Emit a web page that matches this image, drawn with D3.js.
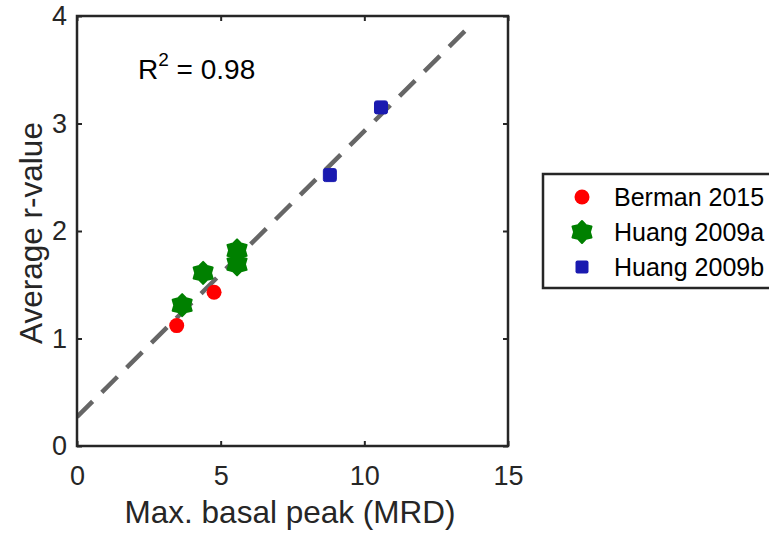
<!DOCTYPE html>
<html><head><meta charset="utf-8">
<script src="https://cdn.jsdelivr.net/npm/d3@7/dist/d3.min.js"></script>
<style>body{margin:0;background:#fff;overflow:hidden}text{font-family:"Liberation Sans",Arial,sans-serif}</style>
</head><body>
<script>
const bermanX = [3.47, 4.77];
const bermanY = [1.12, 1.43];
const huangAX = [3.66, 4.39, 5.57, 5.57];
const huangAY = [1.31, 1.61, 1.82, 1.69];
const huangBX = [8.8, 10.58];
const huangBY = [2.52, 3.15];
const fitX = [0, 13.65];
const fitY = [0.27, 3.9];
const xTicks = [0, 5, 10, 15];
const yTicks = [0, 1, 2, 3, 4];
const legendLabels = ["Berman 2015", "Huang 2009a", "Huang 2009b"];

const W = 769, H = 536;
const svg = d3.select("body").append("svg").attr("width", W).attr("height", H);
const L = 77, R = 508, T = 16, B = 446;
const x = d3.scaleLinear().domain([0, 15]).range([L, R]);
const y = d3.scaleLinear().domain([0, 4]).range([B, T]);
const axisCol = "#262626";

svg.append("clipPath").attr("id","clip").append("rect").attr("x",L).attr("y",T).attr("width",R-L).attr("height",B-T);

svg.append("line").attr("clip-path","url(#clip)")
  .attr("x1", x(fitX[0])).attr("y1", y(fitY[0])).attr("x2", x(fitX[1])).attr("y2", y(fitY[1]))
  .attr("stroke", "#666").attr("stroke-width", 4.5).attr("stroke-dasharray", "22,13");

const star = d3.symbol().type({draw(ctx, size){
  const r = Math.sqrt(size), ri = r*0.72;
  for(let i=0;i<12;i++){const a = -Math.PI/2 + i*Math.PI/6; const rr = i%2?ri:r;
    const px = rr*Math.cos(a), py = rr*Math.sin(a); i?ctx.lineTo(px,py):ctx.moveTo(px,py);}
  ctx.closePath();}}).size(121);

const g = svg.append("g");
huangAX.forEach((v,i)=>{
  g.append("path").attr("d", star()).attr("transform",`translate(${x(v)},${y(huangAY[i])})`)
   .attr("fill","#008000").attr("stroke","#008000").attr("stroke-width",2).attr("stroke-linejoin","round");
});
bermanX.forEach((v,i)=>{
  g.append("circle").attr("cx",x(v)).attr("cy",y(bermanY[i])).attr("r",7.5).attr("fill","#ff0000");
});
huangBX.forEach((v,i)=>{
  g.append("rect").attr("x",x(v)-6.5).attr("y",y(huangBY[i])-6.5).attr("width",13).attr("height",13).attr("rx",2)
   .attr("fill","#1a1ab0").attr("stroke","#1a1ab0").attr("stroke-width",1);
});

svg.append("rect").attr("x",L).attr("y",T).attr("width",R-L).attr("height",B-T)
  .attr("fill","none").attr("stroke",axisCol).attr("stroke-width",2.5);

const fmt = d3.format("d");
const xa = svg.append("g").attr("transform",`translate(0,${B})`)
  .call(d3.axisBottom(x).tickValues(xTicks).tickFormat(fmt).tickSizeInner(-5).tickSizeOuter(0).tickPadding(20));
const xt = svg.append("g").attr("transform",`translate(0,${T})`)
  .call(d3.axisTop(x).tickValues(xTicks).tickSizeInner(-5).tickSizeOuter(0).tickFormat(""));
const ya = svg.append("g").attr("transform",`translate(${L},0)`)
  .call(d3.axisLeft(y).tickValues(yTicks).tickFormat(fmt).tickSizeInner(-5).tickSizeOuter(0).tickPadding(10));
const yr = svg.append("g").attr("transform",`translate(${R},0)`)
  .call(d3.axisRight(y).tickValues(yTicks).tickSizeInner(-5).tickSizeOuter(0).tickFormat(""));
[xa,xt,ya,yr].forEach(a=>{
  a.select(".domain").remove();
  a.selectAll("line").attr("stroke",axisCol).attr("stroke-width",2);
  a.selectAll("text").attr("fill",axisCol).attr("font-size",null)
   .style("font-size","27px").style("font-family","'Liberation Sans',Arial,sans-serif");
  a.attr("font-size",null).attr("font-family",null);
});
xa.selectAll("text").attr("dy","0.71em");

svg.append("text").attr("x",290).attr("y",523).attr("text-anchor","middle")
  .attr("fill",axisCol).style("font-size","31.5px").text("Max. basal peak (MRD)");
svg.append("text").attr("transform",`translate(42,233) rotate(-90)`).attr("text-anchor","middle")
  .attr("fill",axisCol).style("font-size","31.5px").text("Average r-value");

const rt = svg.append("text").attr("x",138).attr("y",79).attr("fill","#000").style("font-size","28px");
rt.append("tspan").text("R");
rt.append("tspan").attr("dy",-13).style("font-size","19px").text("2");
rt.append("tspan").attr("dy",13).text(" = 0.98");

const lg = svg.append("g");
lg.append("rect").attr("x",543).attr("y",174).attr("width",260).attr("height",114)
  .attr("fill","#fff").attr("stroke",axisCol).attr("stroke-width",2.5);
const ly = [197, 232, 267];
lg.append("circle").attr("cx",582).attr("cy",ly[0]).attr("r",7.5).attr("fill","#ff0000");
lg.append("path").attr("d",star()).attr("transform",`translate(582,${ly[1]})`)
  .attr("fill","#008000").attr("stroke","#008000").attr("stroke-width",2).attr("stroke-linejoin","round");
lg.append("rect").attr("x",582-6.5).attr("y",ly[2]-6.5).attr("width",13).attr("height",13).attr("rx",2).attr("fill","#1a1ab0");
legendLabels.forEach((t,i)=>{
  lg.append("text").attr("x",614).attr("y",ly[i]).attr("dy","0.35em").attr("fill","#000")
    .style("font-size","25px").text(t);
});
</script>
</body></html>
